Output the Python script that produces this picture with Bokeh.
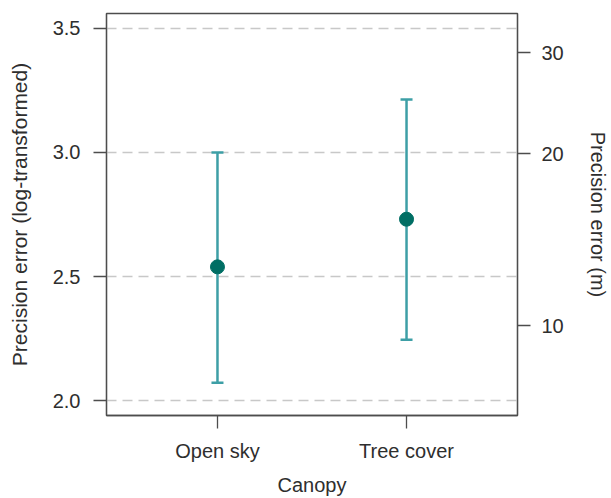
from bokeh.plotting import figure
from bokeh.models import (ColumnDataSource, Whisker, TeeHead, FixedTicker, NumeralTickFormatter,
                          Range1d, LogAxis, LogScale)
from bokeh.embed import file_html
from bokeh.resources import INLINE
import math

categories = ["Open sky", "Tree cover"]
means = [2.539, 2.731]
lower = [2.072, 2.245]
upper = [3.000, 3.213]
left_ticks = [2.0, 2.5, 3.0, 3.5]
right_ticks = [10, 20, 30]

xpos = [i + 1 for i in range(len(categories))]
src = ColumnDataSource(dict(x=xpos, mean=means, lower=lower, upper=upper))

FONT = "Liberation Sans"
TXT = "#2e2e2e"
AX = "#4d4d4d"

y0, y1 = 1.94, 3.56
p = figure(width=611, height=498, output_backend="svg", toolbar_location=None,
           x_range=Range1d(0.413, 2.587), y_range=Range1d(y0, y1),
           min_border_left=106, min_border_right=93, min_border_top=13, min_border_bottom=81)
p.extra_y_ranges = {"m": Range1d(math.exp(y0), math.exp(y1))}
p.extra_y_scales = {"m": LogScale()}

p.background_fill_color = "white"
p.outline_line_color = AX
p.outline_line_width = 1.3

p.xgrid.visible = False
p.ygrid.grid_line_color = "#c8c8c8"
p.ygrid.grid_line_dash = "10 6"
p.ygrid.grid_line_width = 1.3

# error bars
wh = Whisker(source=src, base="x", lower="lower", upper="upper", dimension="height",
             line_color="#3d9fa6", line_width=2.5,
             upper_head=TeeHead(size=12, line_color="#3d9fa6", line_width=2.5),
             lower_head=TeeHead(size=12, line_color="#3d9fa6", line_width=2.5))
p.add_layout(wh)
p.scatter("x", "mean", source=src, size=14, fill_color="#006e64", line_color="#006e64")

def style(ax, size="20px", lsize="20px"):
    ax.axis_line_color = AX
    ax.axis_line_width = 1.3
    ax.major_tick_line_color = AX
    ax.major_tick_line_width = 1.3
    ax.major_tick_out = 13
    ax.major_tick_in = 0
    ax.minor_tick_line_color = None
    ax.major_label_text_font = FONT
    ax.major_label_text_font_size = size
    ax.major_label_text_color = TXT
    ax.axis_label_text_font = FONT
    ax.axis_label_text_font_size = lsize
    ax.axis_label_text_font_style = "normal"
    ax.axis_label_text_color = TXT

xa = p.xaxis[0]
style(xa)
xa.ticker = FixedTicker(ticks=xpos)
xa.major_label_overrides = {x: c for x, c in zip(xpos, categories)}
xa.axis_label = "Canopy"
xa.major_label_standoff = 11
xa.axis_label_standoff = 9

ya = p.yaxis[0]
style(ya, lsize="21px")
ya.ticker = FixedTicker(ticks=left_ticks)
ya.formatter = NumeralTickFormatter(format="0.0")
ya.axis_label = "Precision error (log-transformed)"
ya.major_label_standoff = 13
ya.axis_label_standoff = 19

ra = LogAxis(y_range_name="m")
style(ra)
ra.ticker = FixedTicker(ticks=right_ticks)
ra.axis_label = "Precision error (m)"
ra.major_label_standoff = 11
ra.axis_label_standoff = 20
p.add_layout(ra, "right")

open("out.html", "w").write(file_html(p, INLINE))
